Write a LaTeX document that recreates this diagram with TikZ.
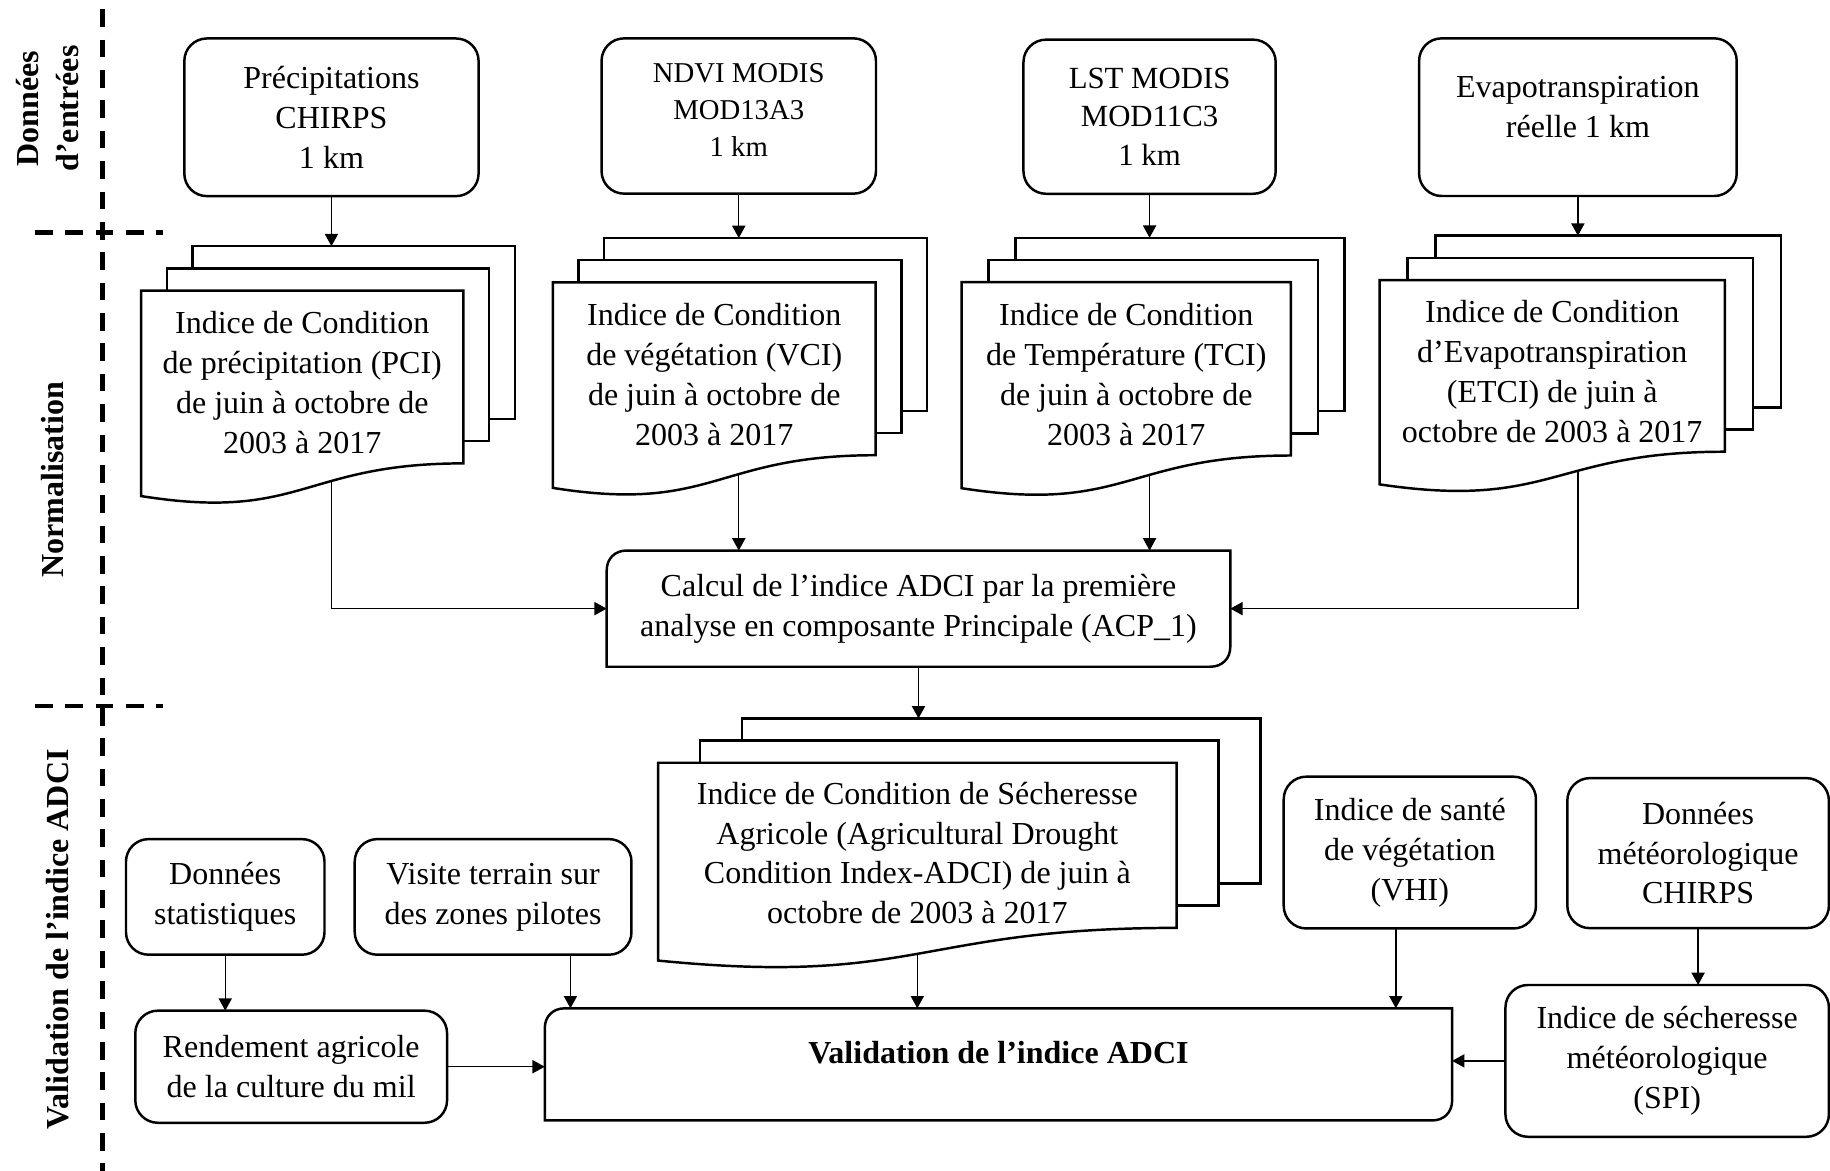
\documentclass[tikz,border=0pt]{standalone}
\usepackage{fontspec}
\setmainfont{Liberation Serif}
\usetikzlibrary{arrows.meta,calc}
% stack of three sheets behind a document node
\newcommand{\sheets}[2]{%
  \draw[sheet]($(#1.north west)+(2*#2,-19)$)|-($(#1.north east)+(2*#2,-38)$)|-($(#1.south east)+(#2,-38)$);
  \draw[sheet]($(#1.north west)+(#2,0)$)|-($(#1.north east)+(#2,-19)$)|-($(#1.south east)+(0,-19)$);
  \draw[sheet]($(#1.south west)+(0,28)$)--(#1.north west)--(#1.north east)--(#1.south east)
    .. controls (#1.south) and ($(#1.south)+(0,50)$) .. ($(#1.south west)+(0,28)$)--cycle;
  \coordinate(#1-top)at($(#1.north)+(0,-38)$);}
% box with two rounded corners on a diagonal
\newcommand{\diagbox}[1]{%
  \draw[sheet]($(#1.north west)+(17,0)$)--(#1.north east)--($(#1.south east)+(0,-17)$)
    .. controls ($(#1.south east)+(0,-7)$) and ($(#1.south east)+(-7,0)$) .. ($(#1.south east)+(-17,0)$)
    --(#1.south west)--($(#1.north west)+(0,17)$)
    .. controls ($(#1.north west)+(0,7)$) and ($(#1.north west)+(7,0)$) .. ($(#1.north west)+(17,0)$)--cycle;}
\begin{document}
\begin{tikzpicture}[x=0.01cm,y=-0.01cm,>={Triangle[length=3pt,width=3.2pt]},
    font=\fontsize{7.8}{9.7}\selectfont,
    box/.style={draw,semithick,rounded corners=5.5pt,align=center,inner sep=0pt,outer sep=0pt},
    doc/.style={align=center,inner sep=0pt,outer sep=0pt},
    sheet/.style={semithick,line join=miter},
    link/.style={line width=0.35pt},
    sep/.style={line width=1.1pt,dash pattern=on 4.3pt off 3.1pt},
    side/.style={font=\fontsize{7.8}{9.7}\selectfont\bfseries,rotate=90,align=center}]
    \useasboundingbox(0,0)rectangle(1568,1003);
    % bandes
    \draw[sep](88,8)--(88,1003);
    \draw[sep](30,199)--(140,199);
    \draw[sep](30,605)--(140,605);
    \node[side](l-in)at(41,93){Données\\d’entrées};
    \node[side](l-norm)at(45,411){Normalisation};
    \node[side](l-valid)at(49,805){Validation de l’indice ADCI};
    % donnees d'entree
    \node[box,minimum width=2.52cm,minimum height=1.35cm](precip)at(284,100.5){Précipitations\\CHIRPS\\1 km};
    \node[box,minimum width=2.35cm,minimum height=1.33cm,font=\fontsize{7}{8.96}\selectfont](ndvi)at(633,99.4){NDVI MODIS\\MOD13A3\\1 km\\[-6pt]\mbox{}};
    \node[box,minimum width=2.16cm,minimum height=1.32cm,font=\fontsize{7.5}{9.35}\selectfont](lst)at(985,100){LST MODIS\\MOD11C3\\1 km};
    \node[box,minimum width=2.72cm,minimum height=1.35cm](evapo)at(1352,100.4){Evapotranspiration\\réelle 1 km\\[-4.5pt]\mbox{}};
    % normalisation
    \node[doc,minimum width=2.76cm,minimum height=1.48cm](pci)at(259,323){\mbox{}\\[-1.5pt]Indice de Condition\\de précipitation (PCI)\\de juin à octobre de\\2003 à 2017};
    \sheets{pci}{22}
    \node[doc,minimum width=2.765cm,minimum height=1.48cm](vci)at(612,316){\mbox{}\\[-1.5pt]Indice de Condition\\de végétation (VCI)\\de juin à octobre de\\2003 à 2017};
    \sheets{vci}{22}
    \node[doc,minimum width=2.82cm,minimum height=1.485cm](tci)at(965,316){\mbox{}\\[-1.5pt]Indice de Condition\\de Température (TCI)\\de juin à octobre de\\2003 à 2017};
    \sheets{tci}{23}
    \node[doc,minimum width=2.955cm,minimum height=1.47cm](etci)at(1330,313.5){\mbox{}\\[-1.5pt]Indice de Condition\\d’Evapotranspiration\\(ETCI) de juin à\\octobre de 2003 à 2017};
    \sheets{etci}{24}
    \node[doc,minimum width=5.34cm,minimum height=0.995cm](calc)at(787,521.5){Calcul de l’indice ADCI par la première\\analyse en composante Principale (ACP\_1)};
    \diagbox{calc}
    % validation
    \node[doc,minimum width=4.44cm,minimum height=1.414cm](adci)at(786,724.3){\mbox{}\\[-0.5pt]Indice de Condition de Sécheresse\\Agricole (Agricultural Drought\\Condition Index-ADCI) de juin à\\octobre de 2003 à 2017};
    \sheets{adci}{36}
    \node[box,minimum width=1.7cm,minimum height=0.99cm](stat)at(193,768.5){Données\\statistiques};
    \node[box,minimum width=2.37cm,minimum height=0.99cm](visite)at(422.5,768.5){Visite terrain sur\\des zones pilotes};
    \node[box,minimum width=2.16cm,minimum height=1.3cm](vhi)at(1208,730.5){Indice de santé\\de végétation\\(VHI)};
    \node[box,minimum width=2.24cm,minimum height=1.285cm](meteo)at(1455,731){Données\\météorologique\\CHIRPS};
    \node[box,minimum width=2.67cm,minimum height=0.96cm](rend)at(249.5,914){Rendement agricole\\de la culture du mil};
    \node[doc,minimum width=7.77cm,minimum height=0.96cm](valid)at(855.5,912){\textbf{Validation de l’indice ADCI}\\[-4pt]\mbox{}};
    \diagbox{valid}
    \node[box,minimum width=2.77cm,minimum height=1.3cm](spi)at(1428.5,909){Indice de sécheresse\\météorologique\\(SPI)};
    % liaisons
    \draw[link,->](precip.south)--(precip.south|-pci-top);
    \draw[link,->](ndvi.south)--(ndvi.south|-vci-top);
    \draw[link,->](lst.south)--(lst.south|-tci-top);
    \draw[link,->](evapo.south)--(evapo.south|-etci-top);
    \draw[link,->]($(precip.south|-pci.south)+(0,16)$)|-(calc.west);
    \draw[link,->]($(ndvi.south|-vci.south)+(0,16)$)--(ndvi.south|-calc.north);
    \draw[link,->]($(lst.south|-tci.south)+(0,16)$)--(lst.south|-calc.north);
    \draw[link,->]($(evapo.south|-etci.south)+(0,16)$)|-(calc.east);
    \draw[link,->](calc.south)--(calc.south|-adci-top);
    \draw[link,->]($(adci.south)+(0,22)$)--(adci.south|-valid.north);
    \draw[link,->](stat.south)--(stat.south|-rend.north);
    \coordinate(v-in)at($(valid.north west)+(22,0)$);
    \draw[link,->](visite.south-|v-in)--(v-in);
    \coordinate(h-in)at($(vhi.south)+(-12,0)$);
    \draw[link,->](h-in)--(h-in|-valid.north);
    \draw[link,->](meteo.south)--(meteo.south|-spi.north);
    \draw[link,->](spi.west)--(spi.west-|valid.east);
    \draw[link,->](rend.east)--(rend.east-|valid.west);
\end{tikzpicture}
\end{document}
